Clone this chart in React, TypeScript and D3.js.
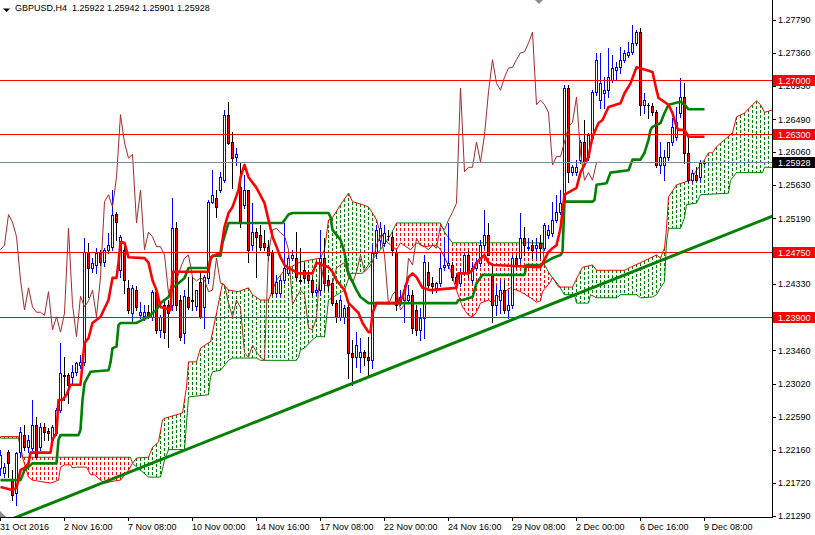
import * as d3 from 'd3';
import React, { useEffect, useRef } from 'react';

// GBPUSD H4 candles, 31 Oct 2016 00:00 .. 9 Dec 2016 08:00 (one per bar)
const openPrices = [
	1.2192, 1.2185, 1.2213, 1.2176, 1.2159, 1.2213, 1.2235, 1.2219, 1.2218, 1.2248,
	1.2219, 1.2246, 1.2240, 1.2229, 1.2238, 1.2268, 1.2314, 1.2314, 1.2311, 1.2318,
	1.2327, 1.2331, 1.2475, 1.2454, 1.2458, 1.2474, 1.2462, 1.2478, 1.2482, 1.2525,
	1.2451, 1.2478, 1.2428, 1.2395, 1.2425, 1.2392, 1.2391, 1.2396, 1.2390, 1.2423,
	1.2373, 1.2406, 1.2406, 1.2406, 1.2506, 1.2412, 1.2369, 1.2416, 1.2412, 1.2404,
	1.2436, 1.2403, 1.2441, 1.2541, 1.2546, 1.2556, 1.2569, 1.2655, 1.2619, 1.2600,
	1.2560, 1.2537, 1.2556, 1.2484, 1.2501, 1.2497, 1.2487, 1.2482, 1.2474, 1.2421,
	1.2421, 1.2438, 1.2447, 1.2467, 1.2467, 1.2438, 1.2451, 1.2445, 1.2438, 1.2423,
	1.2425, 1.2467, 1.2438, 1.2434, 1.2408, 1.2390, 1.2390, 1.2403, 1.2343, 1.2337,
	1.2337, 1.2344, 1.2337, 1.2333, 1.2474, 1.2491, 1.2487, 1.2496, 1.2495, 1.2475,
	1.2408, 1.2412, 1.2412, 1.2419, 1.2399, 1.2373, 1.2389, 1.2449, 1.2434, 1.2428,
	1.2434, 1.2455, 1.2458, 1.2458, 1.2442, 1.2434, 1.2449, 1.2471, 1.2438, 1.2454,
	1.2461, 1.2484, 1.2497, 1.2445, 1.2406, 1.2412, 1.2425, 1.2399, 1.2406, 1.2467,
	1.2467, 1.2493, 1.2480, 1.2484, 1.2480, 1.2487, 1.2480, 1.2497, 1.2500, 1.2517,
	1.2527, 1.2543, 1.2690, 1.2580, 1.2580, 1.2596, 1.2619, 1.2600, 1.2624, 1.2685,
	1.2674, 1.2683, 1.2687, 1.2700, 1.2714, 1.2717, 1.2727, 1.2733, 1.2737, 1.2749,
	1.2763, 1.2668, 1.2668, 1.2666, 1.2658, 1.2589, 1.2589, 1.2600, 1.2619, 1.2626,
	1.2657, 1.2678, 1.2605, 1.2569, 1.2576, 1.2573, 1.25922,
];
const highPrices = [
	1.2216, 1.2198, 1.2216, 1.2189, 1.2213, 1.2246, 1.2248, 1.2235, 1.2281, 1.2259,
	1.2251, 1.2251, 1.2244, 1.2248, 1.2271, 1.2356, 1.2337, 1.2316, 1.2327, 1.2331,
	1.2340, 1.2493, 1.2487, 1.2467, 1.2480, 1.2478, 1.2480, 1.2500, 1.2556, 1.2527,
	1.2497, 1.2487, 1.2438, 1.2432, 1.2430, 1.2409, 1.2406, 1.2406, 1.2425, 1.2425,
	1.2392, 1.2412, 1.2412, 1.2546, 1.2514, 1.2419, 1.2425, 1.2442, 1.2442, 1.2425,
	1.2449, 1.2445, 1.2543, 1.2582, 1.2556, 1.2580, 1.2661, 1.2672, 1.2632, 1.2611,
	1.2592, 1.2576, 1.2556, 1.2539, 1.2506, 1.2510, 1.2504, 1.2491, 1.2478, 1.2445,
	1.2441, 1.2513, 1.2471, 1.2478, 1.2501, 1.2480, 1.2461, 1.2451, 1.2442, 1.2429,
	1.2504, 1.2493, 1.2445, 1.2438, 1.2412, 1.2419, 1.2406, 1.2412, 1.2360, 1.2370,
	1.2362, 1.2347, 1.2364, 1.2484, 1.2510, 1.2514, 1.2510, 1.2504, 1.2501, 1.2478,
	1.2425, 1.2432, 1.2432, 1.2425, 1.2406, 1.2402, 1.2471, 1.2462, 1.2442, 1.2436,
	1.2474, 1.2495, 1.2513, 1.2462, 1.2445, 1.2454, 1.2475, 1.2478, 1.2462, 1.2467,
	1.2491, 1.2530, 1.2513, 1.2458, 1.2432, 1.2438, 1.2438, 1.2425, 1.2471, 1.2471,
	1.2526, 1.2508, 1.2493, 1.2491, 1.2493, 1.2497, 1.2513, 1.2510, 1.2541, 1.2550,
	1.2556, 1.2694, 1.2694, 1.2589, 1.2596, 1.2622, 1.2648, 1.2631, 1.2687, 1.2736,
	1.2736, 1.2704, 1.2742, 1.2733, 1.2724, 1.2744, 1.2740, 1.2750, 1.2772, 1.2766,
	1.2769, 1.2683, 1.2670, 1.2670, 1.2661, 1.2619, 1.2609, 1.2619, 1.2651, 1.2665,
	1.2703, 1.2696, 1.2624, 1.2582, 1.2586, 1.2596, 1.25942,
];
const lowPrices = [
	1.2183, 1.2180, 1.2180, 1.2150, 1.2143, 1.2206, 1.2216, 1.2213, 1.2216, 1.2206,
	1.2216, 1.2229, 1.2229, 1.2222, 1.2235, 1.2265, 1.2281, 1.2277, 1.2303, 1.2314,
	1.2323, 1.2327, 1.2416, 1.2449, 1.2447, 1.2458, 1.2457, 1.2474, 1.2478, 1.2491,
	1.2442, 1.2421, 1.2395, 1.2382, 1.2399, 1.2389, 1.2386, 1.2389, 1.2386, 1.2369,
	1.2364, 1.2362, 1.2351, 1.2399, 1.2399, 1.2360, 1.2356, 1.2400, 1.2399, 1.2399,
	1.2388, 1.2375, 1.2434, 1.2539, 1.2521, 1.2554, 1.2567, 1.2616, 1.2559, 1.2589,
	1.2508, 1.2533, 1.2462, 1.2478, 1.2442, 1.2478, 1.2478, 1.2465, 1.2419, 1.2417,
	1.2417, 1.2434, 1.2445, 1.2465, 1.2438, 1.2434, 1.2436, 1.2434, 1.2419, 1.2419,
	1.2419, 1.2425, 1.2425, 1.2406, 1.2383, 1.2386, 1.2382, 1.2310, 1.2301, 1.2324,
	1.2318, 1.2327, 1.2314, 1.2323, 1.2467, 1.2484, 1.2483, 1.2491, 1.2471, 1.2399,
	1.2406, 1.2383, 1.2408, 1.2369, 1.2366, 1.2360, 1.2362, 1.2429, 1.2421, 1.2423,
	1.2430, 1.2451, 1.2454, 1.2438, 1.2432, 1.2430, 1.2445, 1.2442, 1.2434, 1.2451,
	1.2457, 1.2480, 1.2471, 1.2383, 1.2392, 1.2395, 1.2395, 1.2389, 1.2402, 1.2454,
	1.2462, 1.2471, 1.2478, 1.2467, 1.2467, 1.2467, 1.2478, 1.2493, 1.2496, 1.2514,
	1.2525, 1.2537, 1.2567, 1.2576, 1.2576, 1.2592, 1.2592, 1.2596, 1.2622, 1.2681,
	1.2664, 1.2664, 1.2678, 1.2698, 1.2700, 1.2710, 1.2724, 1.2731, 1.2734, 1.2746,
	1.2655, 1.2657, 1.2651, 1.2655, 1.2586, 1.2579, 1.2569, 1.2596, 1.2615, 1.2622,
	1.2652, 1.2592, 1.2567, 1.2567, 1.2569, 1.2569, 1.25901,
];
const closePrices = [
	1.2209, 1.2193, 1.2198, 1.2157, 1.2212, 1.2239, 1.2219, 1.2229, 1.2248, 1.2206,
	1.2246, 1.2239, 1.2238, 1.2246, 1.2268, 1.2316, 1.2312, 1.2301, 1.2318, 1.2330,
	1.2331, 1.2475, 1.2454, 1.2461, 1.2474, 1.2462, 1.2478, 1.2484, 1.2524, 1.2514,
	1.2495, 1.2438, 1.2399, 1.2428, 1.2403, 1.2396, 1.2396, 1.2392, 1.2423, 1.2373,
	1.2390, 1.2370, 1.2395, 1.2506, 1.2406, 1.2364, 1.2417, 1.2403, 1.2411, 1.2425,
	1.2390, 1.2442, 1.2541, 1.2550, 1.2534, 1.2573, 1.2655, 1.2618, 1.2598, 1.2603,
	1.2513, 1.2556, 1.2478, 1.2501, 1.2495, 1.2482, 1.2482, 1.2471, 1.2421, 1.2436,
	1.2438, 1.2454, 1.2467, 1.2471, 1.2442, 1.2437, 1.2441, 1.2438, 1.2423, 1.2425,
	1.2467, 1.2434, 1.2432, 1.2408, 1.2390, 1.2412, 1.2402, 1.2343, 1.2337, 1.2353,
	1.2344, 1.2337, 1.2333, 1.2474, 1.2504, 1.2506, 1.2500, 1.2496, 1.2478, 1.2406,
	1.2416, 1.2425, 1.2419, 1.2375, 1.2373, 1.2389, 1.2462, 1.2432, 1.2430, 1.2434,
	1.2454, 1.2458, 1.2461, 1.2442, 1.2434, 1.2449, 1.2471, 1.2449, 1.2454, 1.2462,
	1.2484, 1.2497, 1.2471, 1.2406, 1.2419, 1.2425, 1.2399, 1.2406, 1.2467, 1.2458,
	1.2493, 1.2484, 1.2482, 1.2478, 1.2484, 1.2480, 1.2510, 1.2504, 1.2517, 1.2527,
	1.2539, 1.2690, 1.2580, 1.2586, 1.2586, 1.2619, 1.2593, 1.2628, 1.2685, 1.2727,
	1.2696, 1.2687, 1.2704, 1.2716, 1.2717, 1.2727, 1.2736, 1.2737, 1.2749, 1.2763,
	1.2668, 1.2674, 1.2668, 1.2658, 1.2589, 1.2600, 1.2600, 1.2619, 1.2639, 1.2645,
	1.2678, 1.2605, 1.2569, 1.2579, 1.2569, 1.2592, 1.25928,
];

// ichimoku lines, as (bar index, price) pairs
const tenkanBars = [0, 3, 4, 5, 6, 7, 7.5, 12.5, 13, 14, 14.5, 15.5, 16.5, 17.5, 20, 21, 22, 23, 25, 27, 28, 29, 29.5, 30, 31, 32, 36, 37, 38, 39, 40, 42.5, 43, 52, 52.5, 55, 56, 57, 58, 59.5, 60, 61, 62, 64, 66, 67, 68, 69, 70, 71, 72, 74.5, 78, 79, 80.5, 82, 83, 84, 86, 87, 88, 89.5, 90.5, 92, 92.5, 93, 94, 99.5, 100.5, 102, 103, 104, 105.5, 107.5, 114, 114.5, 117, 118, 119, 121, 122, 123, 135, 136, 137, 138, 139, 140, 141, 144, 145, 147, 148, 149.5, 150.5, 152, 155, 156, 157.5, 159, 161, 163, 164, 164.5, 167, 168, 169, 169.5, 171, 172, 176];
const tenkanValues = [1.2167, 1.2163, 1.2166, 1.2189, 1.2192, 1.2198, 1.2212, 1.2212, 1.2229, 1.2238, 1.2281, 1.2281, 1.2288, 1.2301, 1.2301, 1.2356, 1.2362, 1.2382, 1.2390, 1.2412, 1.2441, 1.2441, 1.2461, 1.2488, 1.2487, 1.2468, 1.2467, 1.2461, 1.2438, 1.2425, 1.2403, 1.2399, 1.2449, 1.2449, 1.2468, 1.2474, 1.2508, 1.2526, 1.2534, 1.2556, 1.2573, 1.2589, 1.2573, 1.2559, 1.2539, 1.2517, 1.2495, 1.2482, 1.2468, 1.2458, 1.2454, 1.2447, 1.2447, 1.2461, 1.2458, 1.2455, 1.2449, 1.2438, 1.2425, 1.2408, 1.2403, 1.2395, 1.2382, 1.2370, 1.2370, 1.2395, 1.2408, 1.2408, 1.2416, 1.2442, 1.2447, 1.2442, 1.2428, 1.2425, 1.2428, 1.2447, 1.2447, 1.2451, 1.2461, 1.2471, 1.2461, 1.2458, 1.2455, 1.2465, 1.2475, 1.2480, 1.2484, 1.2506, 1.2550, 1.2559, 1.2579, 1.2600, 1.2626, 1.2644, 1.2648, 1.2665, 1.2670, 1.2683, 1.2696, 1.2717, 1.2714, 1.2711, 1.2687, 1.2677, 1.2668, 1.2657, 1.2639, 1.2635, 1.2635, 1.2626, 1.2626];

const kijunBars = [0, 5, 6, 8, 14, 14.5, 15, 19.5, 20, 20.5, 21, 22.5, 27, 27.5, 28, 29, 29.5, 30, 34, 37, 38, 39, 40, 42, 43, 44.5, 46, 47, 52, 52.5, 53, 55, 55.5, 57, 70.5, 72, 73, 82, 82.5, 83, 85, 86, 87, 89, 90, 92, 114, 114.5, 115.5, 118, 119, 120.5, 131, 131.5, 135, 138, 140, 140.5, 141, 148, 148.5, 149, 151.5, 152.5, 157, 158, 160, 161, 162, 162.5, 163, 165, 166, 167, 170, 171, 172, 176];
const kijunValues = [1.2176, 1.2176, 1.2189, 1.2198, 1.2198, 1.2229, 1.2235, 1.2235, 1.2242, 1.2281, 1.2303, 1.2318, 1.2320, 1.2330, 1.2349, 1.2351, 1.2379, 1.2382, 1.2382, 1.2390, 1.2395, 1.2399, 1.2408, 1.2416, 1.2428, 1.2434, 1.2441, 1.2454, 1.2454, 1.2465, 1.2470, 1.2470, 1.2487, 1.2513, 1.2513, 1.2524, 1.2526, 1.2526, 1.2521, 1.2504, 1.2491, 1.2474, 1.2447, 1.2425, 1.2416, 1.2408, 1.2408, 1.2412, 1.2412, 1.2416, 1.2434, 1.2445, 1.2445, 1.2458, 1.2458, 1.2467, 1.2471, 1.2475, 1.2541, 1.2541, 1.2543, 1.2563, 1.2565, 1.2579, 1.2582, 1.2596, 1.2596, 1.2605, 1.2622, 1.2635, 1.2639, 1.2644, 1.2657, 1.2668, 1.2672, 1.2668, 1.2662, 1.2662];

const spanABars = [0, 4.5, 5.5, 7, 8, 12.5, 14.5, 15, 16, 17.5, 18, 19, 21.5, 22.5, 23.5, 25, 26, 28.5, 30, 31, 32, 33, 34, 37, 38, 39.5, 40.5, 41, 45.5, 46, 46.5, 47, 49, 50, 52, 52.5, 54, 55.5, 57, 59.5, 62, 63, 65, 67, 69, 71, 75, 80, 81, 82, 83, 85, 87, 88, 90.5, 92, 93, 94, 94.5, 96, 97.5, 99, 100, 102.5, 104, 106, 109, 110, 111, 112.5, 114, 115.5, 117, 118, 119, 120, 122, 123, 125, 127.5, 130, 132.5, 134, 135, 135.5, 137.5, 138, 139.5, 143, 144.5, 145.5, 148, 149, 156, 157.5, 160, 164, 165, 166, 166.5, 167, 169, 172.5, 174, 176, 177, 178, 179, 181, 183, 184, 186, 188, 189, 190, 191, 193];
const spanAValues = [1.2233, 1.2233, 1.2206, 1.2180, 1.2176, 1.2172, 1.2176, 1.2193, 1.2196, 1.2196, 1.2192, 1.2193, 1.2193, 1.2183, 1.2183, 1.2176, 1.2172, 1.2175, 1.2176, 1.2183, 1.2189, 1.2198, 1.2205, 1.2206, 1.2219, 1.2226, 1.2255, 1.2257, 1.2264, 1.2281, 1.2298, 1.2331, 1.2331, 1.2349, 1.2356, 1.2357, 1.2395, 1.2434, 1.2425, 1.2423, 1.2428, 1.2419, 1.2412, 1.2412, 1.2438, 1.2451, 1.2462, 1.2467, 1.2478, 1.2517, 1.2520, 1.2537, 1.2552, 1.2541, 1.2537, 1.2534, 1.2526, 1.2517, 1.2508, 1.2491, 1.2484, 1.2478, 1.2487, 1.2478, 1.2487, 1.2482, 1.2484, 1.2478, 1.2468, 1.2451, 1.2425, 1.2403, 1.2392, 1.2390, 1.2396, 1.2408, 1.2412, 1.2408, 1.2419, 1.2428, 1.2423, 1.2415, 1.2409, 1.2411, 1.2423, 1.2436, 1.2442, 1.2429, 1.2429, 1.2445, 1.2455, 1.2458, 1.2451, 1.2451, 1.2455, 1.2461, 1.2471, 1.2467, 1.2480, 1.2506, 1.2547, 1.2563, 1.2569, 1.2582, 1.2596, 1.2605, 1.2605, 1.2613, 1.2622, 1.2631, 1.2652, 1.2657, 1.2668, 1.2673, 1.2668, 1.2658, 1.2661];

const spanBBars = [0, 4.5, 5.5, 32.5, 33, 37, 40, 41, 42, 46, 47, 52, 52.5, 53, 55, 57, 58, 64, 65, 74, 74.5, 75, 76, 78, 79, 81, 82, 86, 87.5, 90.5, 92.5, 95, 97.5, 99, 110, 111, 113, 135.5, 136, 137, 138, 139.5, 140.5, 141, 143.5, 144, 147, 147.5, 149, 154, 155, 159, 160, 163, 164, 165, 166, 166.5, 167, 170, 171, 171.5, 174, 175, 182, 182.5, 184, 190.5, 191, 193];
const spanBValues = [1.2231, 1.2231, 1.2206, 1.2206, 1.2198, 1.2180, 1.2180, 1.2202, 1.2216, 1.2216, 1.2285, 1.2288, 1.2311, 1.2318, 1.2320, 1.2333, 1.2336, 1.2336, 1.2333, 1.2333, 1.2337, 1.2347, 1.2349, 1.2360, 1.2364, 1.2364, 1.2412, 1.2425, 1.2447, 1.2447, 1.2462, 1.2478, 1.2497, 1.2513, 1.2513, 1.2501, 1.2487, 1.2487, 1.2458, 1.2449, 1.2441, 1.2432, 1.2423, 1.2419, 1.2419, 1.2408, 1.2408, 1.2419, 1.2415, 1.2415, 1.2419, 1.2419, 1.2415, 1.2416, 1.2419, 1.2428, 1.2436, 1.2488, 1.2506, 1.2506, 1.2520, 1.2537, 1.2539, 1.2550, 1.2552, 1.2569, 1.2579, 1.2579, 1.2586, 1.2586];

const chikouShift = 26;

const trendBars = [3.25, 193];
const trendValues = [1.2126, 1.2522];

const levelPrices = [1.27, 1.263, 1.2475, 1.239];
const bidPrice = 1.25928;

const priceTicks = [1.2779, 1.2736, 1.2693, 1.2649, 1.2606, 1.2563, 1.2519, 1.2476, 1.2433, 1.2390, 1.2346, 1.2302, 1.2259, 1.2216, 1.2172, 1.2129];
const dateTickBars = [0, 16, 32, 48, 64, 80, 96, 112, 128, 144, 160, 176];
const dateTickLabels = ['31 Oct 2016', '2 Nov 16:00', '7 Nov 08:00', '10 Nov 00:00', '14 Nov 16:00', '17 Nov 08:00', '22 Nov 00:00', '24 Nov 16:00', '29 Nov 08:00', '2 Dec 00:00', '6 Dec 16:00', '9 Dec 08:00'];

const titleText = 'GBPUSD,H4  1.25922 1.25942 1.25901 1.25928';

const FONT = "'Liberation Sans', Arial, sans-serif";

export default function App(): React.JSX.Element {
	const chartRef = useRef<SVGSVGElement | null>(null);

	useEffect(() => {
		if (chartRef.current === null) return;
		d3.select(chartRef.current).selectAll('*').remove();

		const width = 815;
		const height = 535;
		const plotRight = 772;
		const plotBottom = 517;

		const svg = d3.select(chartRef.current)
			.attr('width', width)
			.attr('height', height)
			.style('position', 'absolute')
			.style('left', '0px')
			.style('top', '0px');

		svg.append('rect').attr('width', width).attr('height', height).attr('fill', '#ffffff');

		const x = d3.scaleLinear().domain([0, 193]).range([0.5, plotRight + 0.5]);
		const y = d3.scaleLinear().domain([1.2129, 1.2779]).range([516, 20]);

		svg.append('defs').append('clipPath').attr('id', 'plot-clip')
			.append('rect').attr('x', 0).attr('y', 0).attr('width', plotRight).attr('height', plotBottom);

		const plot = svg.append('g').attr('clip-path', 'url(#plot-clip)');

		// cloud hatch between span A and span B
		const spanA = d3.scaleLinear().domain(spanABars).range(spanAValues);
		const spanB = d3.scaleLinear().domain(spanBBars).range(spanBValues);
		const hatchBars = d3.range(0, 194);
		plot.append('g')
			.attr('shape-rendering', 'crispEdges')
			.selectAll('line')
			.data(hatchBars.filter((i) => Math.abs(y(spanA(i)) - y(spanB(i))) >= 1))
			.enter()
			.append('line')
			.attr('x1', (i) => x(i))
			.attr('x2', (i) => x(i))
			.attr('y1', (i) => Math.min(y(spanA(i)), y(spanB(i))))
			.attr('y2', (i) => Math.max(y(spanA(i)), y(spanB(i))))
			.attr('stroke', (i) => spanA(i) >= spanB(i) ? '#008000' : '#ff0000')
			.attr('stroke-width', 1)
			.attr('stroke-dasharray', '3,2');

		const pairLine = (bars: number[]) => d3.line<number>()
			.x((_, k) => x(bars[k]))
			.y((v) => y(v));

		plot.append('path')
			.attr('d', pairLine(spanBBars)(spanBValues))
			.attr('fill', 'none').attr('stroke', '#008000').attr('stroke-width', 1);
		plot.append('path')
			.attr('d', pairLine(spanABars)(spanAValues))
			.attr('fill', 'none').attr('stroke', '#ff0000').attr('stroke-width', 1);

		// candles
		const bars = d3.range(openPrices.length);
		const isBull = (i: number) => closePrices[i] > openPrices[i];
		const candles = plot.append('g').attr('shape-rendering', 'crispEdges');

		candles.selectAll('line.wick')
			.data(bars)
			.enter()
			.append('line')
			.attr('class', 'wick')
			.attr('x1', (i) => x(i))
			.attr('x2', (i) => x(i))
			.attr('y1', (i) => Math.round(y(highPrices[i])))
			.attr('y2', (i) => Math.round(y(lowPrices[i])) + 1)
			.attr('stroke', (i) => isBull(i) ? '#0000ff' : '#000000');

		const bodyTop = (i: number) => Math.round(y(Math.max(openPrices[i], closePrices[i])));
		const bodyBottom = (i: number) => Math.round(y(Math.min(openPrices[i], closePrices[i])));

		candles.selectAll('rect.body')
			.data(bars)
			.enter()
			.append('rect')
			.attr('class', 'body')
			.attr('x', (i) => x(i) - 1.5)
			.attr('y', (i) => bodyTop(i))
			.attr('width', 3)
			.attr('height', (i) => Math.max(1, bodyBottom(i) - bodyTop(i) + 1))
			.attr('fill', (i) => isBull(i) ? '#0000ff' : '#000000');

		candles.selectAll('rect.inner')
			.data(bars.filter((i) => bodyBottom(i) - bodyTop(i) > 1))
			.enter()
			.append('rect')
			.attr('class', 'inner')
			.attr('x', (i) => x(i) - 0.5)
			.attr('y', (i) => bodyTop(i) + 1)
			.attr('width', 1)
			.attr('height', (i) => bodyBottom(i) - bodyTop(i) - 1)
			.attr('fill', (i) => isBull(i) ? '#ffffff' : '#ff0000');

		// chikou span: closes drawn 26 bars back
		const chikou = closePrices.slice(chikouShift);
		plot.append('path')
			.attr('d', d3.line<number>().x((_, k) => x(k)).y((v) => y(v))(chikou))
			.attr('fill', 'none').attr('stroke', '#a52a2a').attr('stroke-width', 1);

		plot.append('path')
			.attr('d', pairLine(kijunBars)(kijunValues))
			.attr('fill', 'none').attr('stroke', '#008000').attr('stroke-width', 2.6)
			.attr('stroke-linejoin', 'round');
		plot.append('path')
			.attr('d', pairLine(tenkanBars)(tenkanValues))
			.attr('fill', 'none').attr('stroke', '#ff0000').attr('stroke-width', 2.6)
			.attr('stroke-linejoin', 'round');

		// horizontal levels and bid line
		plot.selectAll('line.level')
			.data(levelPrices)
			.enter()
			.append('line')
			.attr('class', 'level')
			.attr('x1', 0).attr('x2', plotRight)
			.attr('y1', (p) => Math.round(y(p)) + 0.5)
			.attr('y2', (p) => Math.round(y(p)) + 0.5)
			.attr('stroke', '#ff0000')
			.attr('shape-rendering', 'crispEdges');
		plot.append('line')
			.attr('x1', 0).attr('x2', plotRight)
			.attr('y1', Math.round(y(bidPrice)) + 0.5)
			.attr('y2', Math.round(y(bidPrice)) + 0.5)
			.attr('stroke', '#778899')
			.attr('shape-rendering', 'crispEdges');

		// trendline
		plot.append('line')
			.attr('x1', x(trendBars[0])).attr('y1', y(trendValues[0]))
			.attr('x2', x(trendBars[1])).attr('y2', y(trendValues[1]))
			.attr('stroke', '#008000').attr('stroke-width', 3);

		// frame
		svg.append('line')
			.attr('x1', plotRight + 0.5).attr('x2', plotRight + 0.5)
			.attr('y1', 0).attr('y2', plotBottom + 1)
			.attr('stroke', '#000').attr('shape-rendering', 'crispEdges');
		svg.append('line')
			.attr('x1', 0).attr('x2', plotRight + 1)
			.attr('y1', plotBottom + 0.5).attr('y2', plotBottom + 0.5)
			.attr('stroke', '#000').attr('shape-rendering', 'crispEdges');

		// price axis
		const priceAxis = svg.append('g');
		priceAxis.selectAll('line')
			.data(priceTicks)
			.enter()
			.append('line')
			.attr('x1', plotRight + 1).attr('x2', plotRight + 4)
			.attr('y1', (p) => Math.round(y(p)) + 0.5)
			.attr('y2', (p) => Math.round(y(p)) + 0.5)
			.attr('stroke', '#000').attr('shape-rendering', 'crispEdges');
		priceAxis.selectAll('text')
			.data(priceTicks)
			.enter()
			.append('text')
			.attr('x', 778)
			.attr('y', (p) => y(p) + 3.3)
			.attr('font-family', FONT)
			.attr('font-size', 9)
			.attr('fill', '#000')
			.text((p) => p.toFixed(5));

		// date axis
		const dateAxis = svg.append('g');
		dateAxis.selectAll('line')
			.data(dateTickBars)
			.enter()
			.append('line')
			.attr('x1', (b) => x(b) - 0.5).attr('x2', (b) => x(b) - 0.5)
			.attr('y1', plotBottom).attr('y2', plotBottom + 4)
			.attr('stroke', '#000').attr('shape-rendering', 'crispEdges');
		dateAxis.selectAll('text')
			.data(dateTickBars)
			.enter()
			.append('text')
			.attr('x', (b) => x(b) - 0.5)
			.attr('y', 529.5)
			.attr('font-family', FONT)
			.attr('font-size', 9)
			.attr('fill', '#000')
			.text((_, k) => dateTickLabels[k]);

		// price labels on the axis
		const labelData = [
			...levelPrices.map((p) => ({ price: p, fill: '#ff0000' })),
			{ price: bidPrice, fill: '#000000' },
		];
		const labels = svg.append('g');
		labels.selectAll('rect')
			.data(labelData)
			.enter()
			.append('rect')
			.attr('x', plotRight + 1)
			.attr('y', (d) => Math.round(y(d.price)) - 5)
			.attr('width', width - plotRight - 1)
			.attr('height', 11)
			.attr('fill', (d) => d.fill)
			.attr('shape-rendering', 'crispEdges');
		labels.selectAll('text')
			.data(labelData)
			.enter()
			.append('text')
			.attr('x', 778)
			.attr('y', (d) => Math.round(y(d.price)) + 3.8)
			.attr('font-family', FONT)
			.attr('font-size', 9)
			.attr('fill', '#ffffff')
			.text((d) => d.price.toFixed(5));

		// title
		svg.append('path')
			.attr('d', 'M3,8.5 L10,8.5 L6.5,12 Z')
			.attr('fill', '#000');
		svg.append('text')
			.attr('x', 15)
			.attr('y', 10.8)
			.attr('font-family', FONT)
			.attr('font-size', 9)
			.attr('fill', '#000')
			.style('white-space', 'pre')
			.text(titleText);

		// chart shift markers
		svg.append('path').attr('d', 'M535,0 L543,0 L539,4 Z').attr('fill', '#8c8c8c');
		svg.append('path').attr('d', `M0,${plotBottom - 6} L6,${plotBottom} L0,${plotBottom} Z`).attr('fill', '#8c8c8c');
	}, []);

	return (
		<svg ref={chartRef} />
	);
}
